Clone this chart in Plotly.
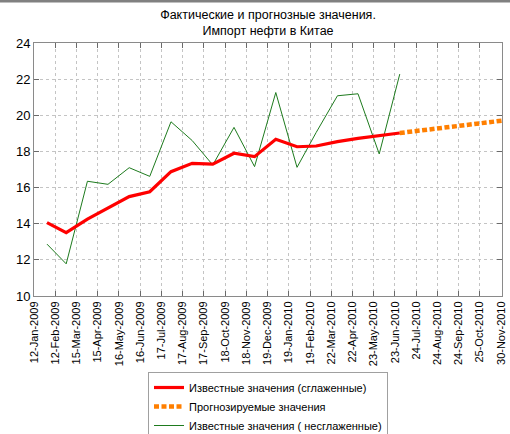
import plotly.graph_objects as go

# ---- data ----
months = ["2009-01-31", "2009-02-28", "2009-03-31", "2009-04-30", "2009-05-31", "2009-06-30",
          "2009-07-31", "2009-08-31", "2009-09-30", "2009-10-31", "2009-11-30", "2009-12-31",
          "2010-01-31", "2010-02-28", "2010-03-31", "2010-04-30", "2010-05-31", "2010-06-30"]
raw_values = [12.87, 11.78, 16.35, 16.18, 17.10, 16.62, 19.64, 18.60, 17.25, 19.33, 17.16, 21.26,
              17.12, 19.05, 21.08, 21.19, 17.86, 22.28]
smoothed_values = [14.06, 13.51, 14.25, 14.86, 15.50, 15.77, 16.88, 17.34, 17.30, 17.90, 17.71, 18.67,
                   18.26, 18.30, 18.54, 18.72, 18.87, 19.02]
forecast_months = ["2010-06-30", "2010-07-31", "2010-08-31", "2010-09-30", "2010-10-31", "2010-11-30"]
forecast_values = [19.02, 19.16, 19.30, 19.44, 19.58, 19.72]

tick_dates = ["2009-01-12", "2009-02-12", "2009-03-15", "2009-04-15", "2009-05-16", "2009-06-16",
              "2009-07-17", "2009-08-17", "2009-09-17", "2009-10-18", "2009-11-18", "2009-12-19",
              "2010-01-19", "2010-02-19", "2010-03-22", "2010-04-22", "2010-05-23", "2010-06-23",
              "2010-07-24", "2010-08-24", "2010-09-24", "2010-10-25", "2010-11-25"]
tick_labels = ["12-Jan-2009", "12-Feb-2009", "15-Mar-2009", "15-Apr-2009", "16-May-2009", "16-Jun-2009",
               "17-Jul-2009", "17-Aug-2009", "17-Sep-2009", "18-Oct-2009", "18-Nov-2009", "19-Dec-2009",
               "19-Jan-2010", "19-Feb-2010", "22-Mar-2010", "22-Apr-2010", "23-May-2010", "23-Jun-2010",
               "24-Jul-2010", "24-Aug-2010", "24-Sep-2010", "25-Oct-2010", "30-Nov-2010"]
y_ticks = [10, 12, 14, 16, 18, 20, 22, 24]

title_text = "Фактические и прогнозные значения.<br>Импорт нефти в Китае"
name_smoothed = "Известные значения (сглаженные)"
name_forecast = "Прогнозируемые значения"
name_raw = "Известные значения ( несглаженные)"

FONT = "Liberation Sans, Arial, sans-serif"

fig = go.Figure()
fig.add_trace(go.Scatter(x=months, y=raw_values, mode="lines", name=name_raw,
                         line=dict(color="#1e7b1e", width=1), legendrank=3))
fig.add_trace(go.Scatter(x=months, y=smoothed_values, mode="lines", name=name_smoothed,
                         line=dict(color="#ff0000", width=3.2), legendrank=1))
fig.add_trace(go.Scatter(x=forecast_months, y=forecast_values, mode="lines", name=name_forecast,
                         line=dict(color="#ff7f00", width=4.5, dash="5px,2.5px"), legendrank=2))

L, R, T, B = 34, 8, 43, 138
W, H = 510, 434
pw, ph = W - L - R, H - T - B

fig.update_layout(
    width=W, height=H,
    margin=dict(l=L, r=R, t=T, b=B, pad=0, autoexpand=False),
    paper_bgcolor="white", plot_bgcolor="white",
    font=dict(family=FONT, color="black"),
    title=dict(text=title_text, x=(L + pw / 2) / W, xanchor="center",
               y=1 - 19 / H, yanchor="top", font=dict(size=12.5, family=FONT)),
    showlegend=True,
    legend=dict(x=(148 - L) / pw, xanchor="left", y=-(372 - (T + ph)) / ph, yanchor="top",
                bordercolor="#a0a0a0", borderwidth=1, bgcolor="white",
                font=dict(size=11, family=FONT), traceorder="normal"),
    shapes=[dict(type="rect", xref="paper", yref="paper",
                 x0=-L / pw, x1=1 + R / pw, y0=1 + (T - 2.5) / ph, y1=1 + T / ph,
                 fillcolor="#808080", line=dict(width=0), layer="above")],
)
fig.update_xaxes(type="date", range=["2009-01-12", "2010-11-26 06:00"], automargin=False,
                 tickmode="array", tickvals=tick_dates, ticktext=tick_labels, tickangle=-90,
                 tickfont=dict(size=11, family=FONT),
                 showgrid=True, gridcolor="#c4c4c4", griddash="dot", gridwidth=1,
                 showline=True, linecolor="#8a8a8a", linewidth=1, mirror="ticks",
                 ticks="inside", ticklen=5, tickcolor="#6a6a6a", zeroline=False)
fig.update_yaxes(range=[10, 24], tickmode="array", tickvals=y_ticks, automargin=False,
                 tickfont=dict(size=13, family=FONT),
                 showgrid=True, gridcolor="#c4c4c4", griddash="dot", gridwidth=1,
                 showline=True, linecolor="#8a8a8a", linewidth=1, mirror="ticks",
                 ticks="inside", ticklen=5, tickcolor="#6a6a6a", zeroline=False)

fig.write_html("out.html", config={"displayModeBar": False},
               post_script="document.body.style.margin='0';document.body.style.padding='0';")
